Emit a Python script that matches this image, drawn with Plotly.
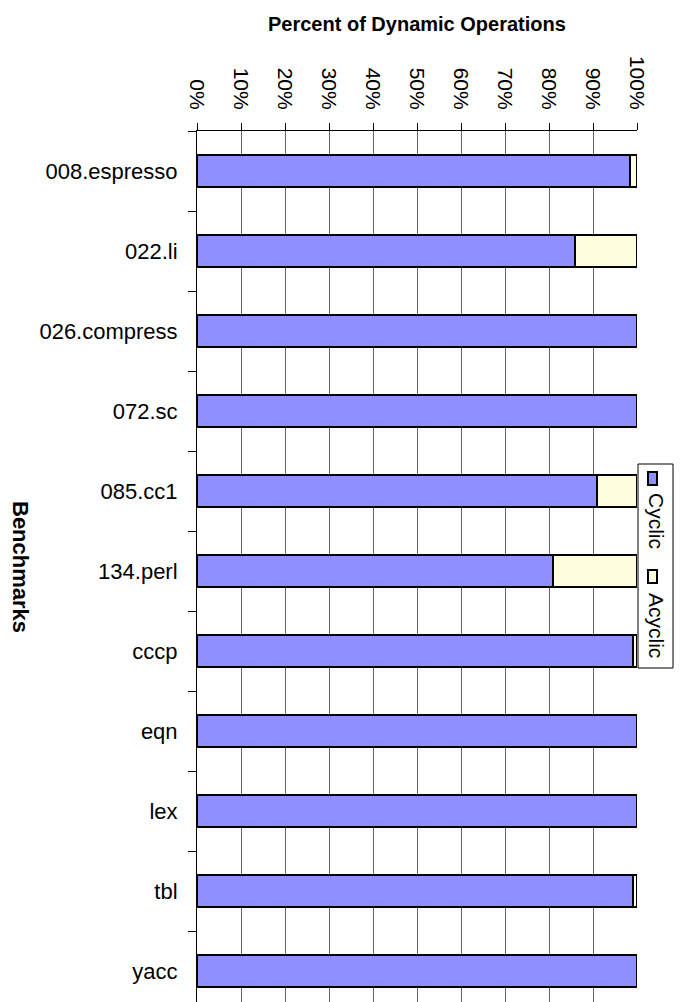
import plotly.graph_objects as go

categories = ["008.espresso", "022.li", "026.compress", "072.sc", "085.cc1",
              "134.perl", "cccp", "eqn", "lex", "tbl", "yacc"]
cyclic = [98.4, 86.0, 100.0, 100.0, 90.8, 80.8, 99.0, 100.0, 100.0, 99.1, 100.0]
acyclic = [1.6, 14.0, 0.0, 0.0, 9.2, 19.2, 1.0, 0.0, 0.0, 0.9, 0.0]
series_names = ["Cyclic", "Acyclic"]
x_ticks = [0, 10, 20, 30, 40, 50, 60, 70, 80, 90, 100]

OFF = 8  # page body margin
W, H = 682 - OFF, 1002 - OFF
L, R, T, B = 197 - OFF, 45, 131 - OFF, 0
PW, PH = W - L - R, H - T - B

CYC_COLOR = "#8F8FFF"
ACY_COLOR = "#FFFFDD"
FONT = "Liberation Sans, Arial, sans-serif"


def px(x):
    return (x - OFF - L) / PW


def py(y):
    return (OFF + H - B - y) / PH


fig = go.Figure()
fig.add_trace(go.Bar(y=categories, x=cyclic, name=series_names[0], orientation="h",
                     marker=dict(color=CYC_COLOR, line=dict(color="black", width=2)),
                     cliponaxis=False))
fig.add_trace(go.Bar(y=categories, x=acyclic, name=series_names[1], orientation="h",
                     marker=dict(color=ACY_COLOR, line=dict(color="black", width=2)),
                     cliponaxis=False))
# invisible helper trace so the tick-mark axis is drawn
fig.add_trace(go.Scatter(x=x_ticks, y=[categories[0]] * len(x_ticks), mode="none",
                         xaxis="x2", hoverinfo="skip", showlegend=False))

band = 80.0
bottom_val = PH / band - 0.5

fig.update_layout(
    width=W, height=H,
    margin=dict(l=L, r=R, t=T, b=B, pad=0),
    barmode="stack", bargap=0.6,
    showlegend=False,
    plot_bgcolor="white", paper_bgcolor="white",
    font=dict(family=FONT, color="black"),
    xaxis=dict(side="top", range=[0, 100], tickvals=x_ticks,
               ticktext=[f"{v}%" for v in x_ticks], tickangle=90,
               tickfont=dict(size=21, family=FONT, color="black"),
               ticks="", ticklen=0,
               ticklabelstandoff=13,
               showline=True, linecolor="black", linewidth=1,
               showgrid=True, gridcolor="#666666", gridwidth=1, zeroline=False),
    xaxis2=dict(side="top", overlaying="x", range=[0, 100], tickvals=x_ticks,
                showticklabels=False, ticks="outside", ticklen=7, tickcolor="black",
                tickwidth=1, showline=False, showgrid=False, zeroline=False),
    yaxis=dict(type="category", categoryorder="array", categoryarray=categories,
               range=[bottom_val, -0.5],
               tickfont=dict(size=22, family=FONT, color="black"),
               ticks="outside", ticklen=8, tickcolor="black", tickson="boundaries",
               ticklabelstandoff=14,
               showline=True, linecolor="black", linewidth=1,
               showgrid=False, zeroline=False),
)

# Title
fig.add_annotation(text="<b>Percent of Dynamic Operations</b>", xref="paper", yref="paper",
                   x=px(417), y=py(24), showarrow=False, xanchor="center", yanchor="middle",
                   font=dict(size=20, family=FONT, color="black"))
# Y axis title (rotated clockwise)
fig.add_annotation(text="<b>Benchmarks</b>", xref="paper", yref="paper",
                   x=px(21), y=py(567), showarrow=False, textangle=90,
                   xanchor="center", yanchor="middle",
                   font=dict(size=22, family=FONT, color="black"))

# Rotated legend drawn by hand
fig.add_shape(type="rect", xref="paper", yref="paper",
              x0=px(638), x1=px(673), y0=py(464), y1=py(668),
              line=dict(color="black", width=1), fillcolor="white", layer="above")
fig.add_shape(type="rect", xref="paper", yref="paper",
              x0=px(648), x1=px(657), y0=py(472), y1=py(485),
              line=dict(color="black", width=2), fillcolor=CYC_COLOR, layer="above")
fig.add_shape(type="rect", xref="paper", yref="paper",
              x0=px(648), x1=px(657), y0=py(570), y1=py(583),
              line=dict(color="black", width=2), fillcolor=ACY_COLOR, layer="above")
fig.add_annotation(text=series_names[0], xref="paper", yref="paper",
                   x=px(657), y=py(521), showarrow=False, textangle=90,
                   xanchor="center", yanchor="middle",
                   font=dict(size=21, family=FONT, color="black"))
fig.add_annotation(text=series_names[1], xref="paper", yref="paper",
                   x=px(657), y=py(625), showarrow=False, textangle=90,
                   xanchor="center", yanchor="middle",
                   font=dict(size=21, family=FONT, color="black"))

fig.write_html("out.html")
